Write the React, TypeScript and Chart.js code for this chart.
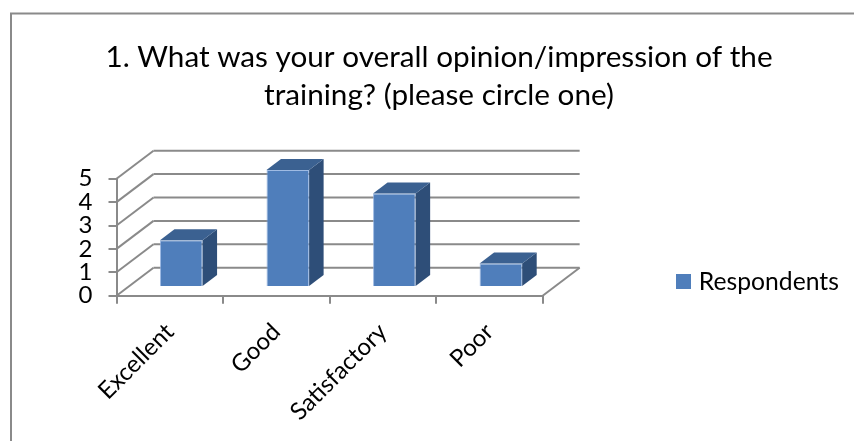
import React, { useEffect, useRef } from "react";
import { Chart, registerables } from "chart.js";

Chart.register(...registerables);

const categories = ["Excellent", "Good", "Satisfactory", "Poor"];
const respondents = [2, 5, 4, 1];
const seriesName = "Respondents";
const titleLines = ["1. What was your overall opinion/impression of the", "training? (please circle one)"];
const yTicks = [0, 1, 2, 3, 4, 5];

const FONT = "Lato";
const GRAY = "#8a8a8a";
const FRONT = "#4f7ebb";
const SIDE = "#2e4e78";
const TOP = "#3b6191";
const EDGE = "rgba(135,170,220,0.8)";
const DEPTH_X = 37;
const DEPTH_Y = -28;
const BAR_X = 11.5;
const BAR_Y = -8.7;
const BAR_DX = 14.5;
const BAR_DY = -11;

const line = (ctx: CanvasRenderingContext2D, x1: number, y1: number, x2: number, y2: number) => {
  ctx.beginPath();
  ctx.moveTo(x1, y1);
  ctx.lineTo(x2, y2);
  ctx.stroke();
};

const poly = (ctx: CanvasRenderingContext2D, pts: number[][], fill: string) => {
  ctx.fillStyle = fill;
  ctx.beginPath();
  pts.forEach(([x, y], i) => (i ? ctx.lineTo(x, y) : ctx.moveTo(x, y)));
  ctx.closePath();
  ctx.fill();
};

const depthPlugin = {
  id: "depth",
  beforeDraw(chart: any) {
    const { ctx } = chart;
    ctx.save();
    ctx.strokeStyle = GRAY;
    ctx.lineWidth = 2;
    ctx.beginPath();
    ctx.moveTo(11, 441);
    ctx.lineTo(11, 13.5);
    ctx.lineTo(854, 13.5);
    ctx.stroke();
    ctx.restore();
  },
  afterLayout(chart: any) {
    const lg = chart.legend;
    lg.top = 259.5;
    lg.bottom = 330;
    lg.left = 670.5;
    lg.right = 854;
    chart.titleBlock.left = 0;
    chart.titleBlock.right = 878;
    chart.titleBlock.width = 878;
  },
  beforeDatasetsDraw(chart: any) {
    const { ctx, scales } = chart;
    const { x, y } = scales;
    ctx.save();
    ctx.strokeStyle = GRAY;
    ctx.lineWidth = 2;
    const left = x.left;
    const right = x.right;
    for (const v of yTicks) {
      const py = y.getPixelForValue(v);
      line(ctx, left, py, left + DEPTH_X, py + DEPTH_Y);
      line(ctx, left + DEPTH_X, py + DEPTH_Y, right + DEPTH_X, py + DEPTH_Y);
    }
    const base = y.getPixelForValue(0);
    line(ctx, right, base, right + DEPTH_X, base + DEPTH_Y);
    ctx.restore();
    ctx.save();
    ctx.translate(BAR_X, BAR_Y);
  },
  afterDatasetsDraw(chart: any) {
    const { ctx } = chart;
    const meta = chart.getDatasetMeta(0);
    for (const bar of meta.data) {
      const { x, y, base, width } = bar.getProps(["x", "y", "base", "width"], true);
      const l = x - width / 2;
      const r = x + width / 2;
      poly(ctx, [[r, y], [r + BAR_DX, y + BAR_DY], [r + BAR_DX, base + BAR_DY], [r, base]], SIDE);
      poly(ctx, [[l, y], [l + BAR_DX, y + BAR_DY], [r + BAR_DX, y + BAR_DY], [r, y]], TOP);
    }
    ctx.restore();
  },
};

export default function App() {
  const ref = useRef<HTMLCanvasElement>(null);
  useEffect(() => {
    const swatch = document.createElement("canvas");
    swatch.width = 15;
    swatch.height = 15;
    const sctx = swatch.getContext("2d")!;
    sctx.fillStyle = FRONT;
    sctx.fillRect(0, 0, 15, 15);

    const chart = new Chart(ref.current!, {
      type: "bar",
      data: {
        labels: categories,
        datasets: [
          {
            label: seriesName,
            data: respondents,
            backgroundColor: FRONT,
            borderColor: EDGE,
            borderWidth: 1,
            barPercentage: 0.4,
            categoryPercentage: 1,
            clip: false,
          } as any,
        ],
      },
      options: {
        animation: false,
        responsive: false,
        layout: { padding: { left: 0, top: 0, bottom: 0, right: 133 } },
        plugins: {
          title: {
            display: true,
            text: titleLines,
            color: "#000",
            font: { family: FONT, size: 29.7, weight: "normal", lineHeight: 38 / 29.7 },
            padding: { top: 38, bottom: 64.7 },
          },
          legend: {
            position: "right",
            align: "start",
            labels: {
              usePointStyle: true,
              pointStyle: swatch as any,
              pointStyleWidth: 6,
              boxHeight: 15,
              color: "#000",
              font: { family: FONT, size: 24.7 },
              padding: 10,
            },
          },
          tooltip: { enabled: false },
        },
        scales: {
          x: {
            afterFit: (s: any) => {
              s.height = 145.3;
            },
            grid: { drawOnChartArea: false, color: GRAY, lineWidth: 2, tickLength: 8 },
            border: { color: GRAY, width: 2 },
            ticks: {
              color: "#000",
              font: { family: FONT, size: 24 },
              maxRotation: 45,
              minRotation: 45,
              padding: 14,
              autoSkip: false,
            },
          },
          y: {
            min: 0,
            max: 5,
            afterFit: (s: any) => {
              s.width = 116.5;
            },
            grid: { drawOnChartArea: false, color: GRAY, lineWidth: 2, tickLength: 8 },
            border: { color: GRAY, width: 2 },
            ticks: {
              color: "#000",
              stepSize: 1,
              autoSkip: false,
              font: { family: FONT, size: 24 },
              padding: 16,
            },
          },
        },
      },
      plugins: [depthPlugin],
    } as any);
    return () => chart.destroy();
  }, []);
  return (
    <canvas
      ref={ref}
      width={854}
      height={441}
      style={{ position: "fixed", left: 0, top: 0, width: 854, height: 441, background: "#fff" }}
    />
  );
}
